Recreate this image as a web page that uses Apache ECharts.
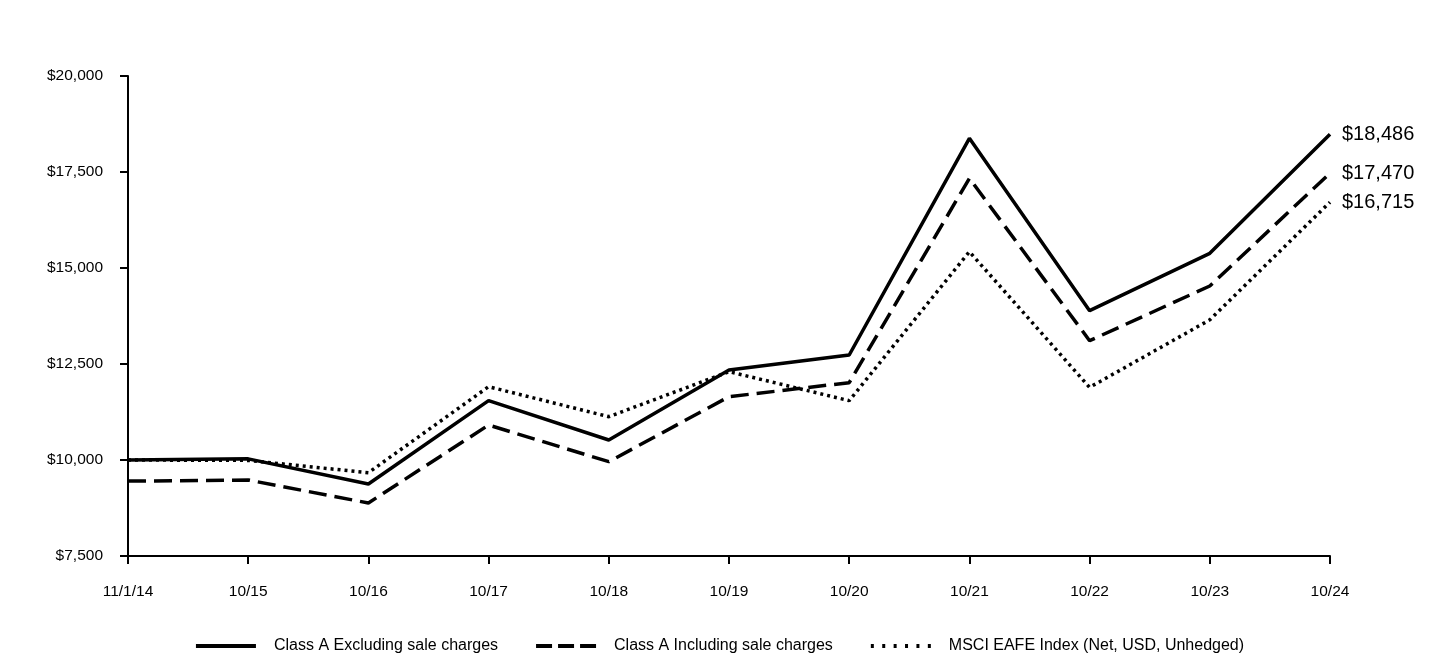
<!DOCTYPE html>
<html>
<head>
<meta charset="utf-8">
<script src="https://cdn.jsdelivr.net/npm/echarts@6/dist/echarts.min.js"></script>
<style>html,body{margin:0;padding:0;background:#fff;}#c{width:1440px;height:660px;}</style>
</head>
<body>
<div id="c"></div>
<script>
var categories = ['11/1/14','10/15','10/16','10/17','10/18','10/19','10/20','10/21','10/22','10/23','10/24'];
var classAExcl = [10000, 10030, 9375, 11545, 10521, 12344, 12734, 18377, 13889, 15382, 18486];
var classAIncl = [9450, 9479, 8880, 10911, 9956, 11649, 12014, 17335, 13107, 14531, 17470];
var msciEafe  = [10000, 9990, 9669, 11909, 11128, 12300, 11545, 15425, 11892, 13650, 16715];
var seriesNames = ['Class A Excluding sale charges','Class A Including sale charges','MSCI EAFE Index (Net, USD, Unhedged)'];

var font = 'Arial, "Liberation Sans", sans-serif';
var legendIcons = [
  'path://M0,0H60V4H0Z',
  'path://M0,0H16V4H0Z M22,0H38V4H22Z M44,0H60V4H44Z',
  'path://M0,0H3V4H0Z M11.4,0H14.4V4H11.4Z M22.8,0H25.8V4H22.8Z M34.2,0H37.2V4H34.2Z M45.6,0H48.6V4H45.6Z M57,0H60V4H57Z'
];
function fmt(v){ return '$' + v.toLocaleString('en-US'); }
function mk(name, data, dash){
  return {
    name: name, type: 'line', data: data, symbol: 'none',
    lineStyle: {color:'#000', width: 3.5, type: dash, cap: 'butt'},
    itemStyle: {color:'#000'},
    endLabel: {show: true, formatter: function(p){ return fmt(p.value); }, fontSize: 20, color: '#000', fontFamily: font, distance: 12},
    animation: false
  };
}
var chart = echarts.init(document.getElementById('c'));
chart.setOption({
  backgroundColor: '#fff',
  animation: false,
  grid: {left: 128, right: 110, top: 76, bottom: 104},
  legend: {
    bottom: 1, left: 'center', itemWidth: 60, itemHeight: 4, itemGap: 38,
    textStyle: {fontSize: 16, color: '#000', fontFamily: font, padding: [0,0,0,13]},
    data: seriesNames.map(function(n, i){ return {name: n, icon: legendIcons[i], itemStyle: {color: '#000'}}; })
  },
  xAxis: {
    type: 'category', data: categories, boundaryGap: false,
    axisLine: {lineStyle: {color: '#000', width: 2}},
    axisTick: {show: true, length: 8, alignWithLabel: true, lineStyle: {color:'#000', width: 2}},
    axisLabel: {color: '#000', fontSize: 15.5, fontFamily: font, margin: 28}
  },
  yAxis: {
    type: 'value', min: 7500, max: 20000, interval: 2500,
    axisLine: {show: true, lineStyle: {color: '#000', width: 2}},
    axisTick: {show: true, length: 8, lineStyle: {color:'#000', width: 2}},
    splitLine: {show: false},
    axisLabel: {color: '#000', fontSize: 15.5, fontFamily: font, margin: 25, formatter: function(v){ return fmt(v); }}
  },
  series: [
    mk(seriesNames[0], classAExcl, 'solid'),
    mk(seriesNames[1], classAIncl, [18, 8]),
    mk(seriesNames[2], msciEafe, [3, 4])
  ]
});
</script>
</body>
</html>
